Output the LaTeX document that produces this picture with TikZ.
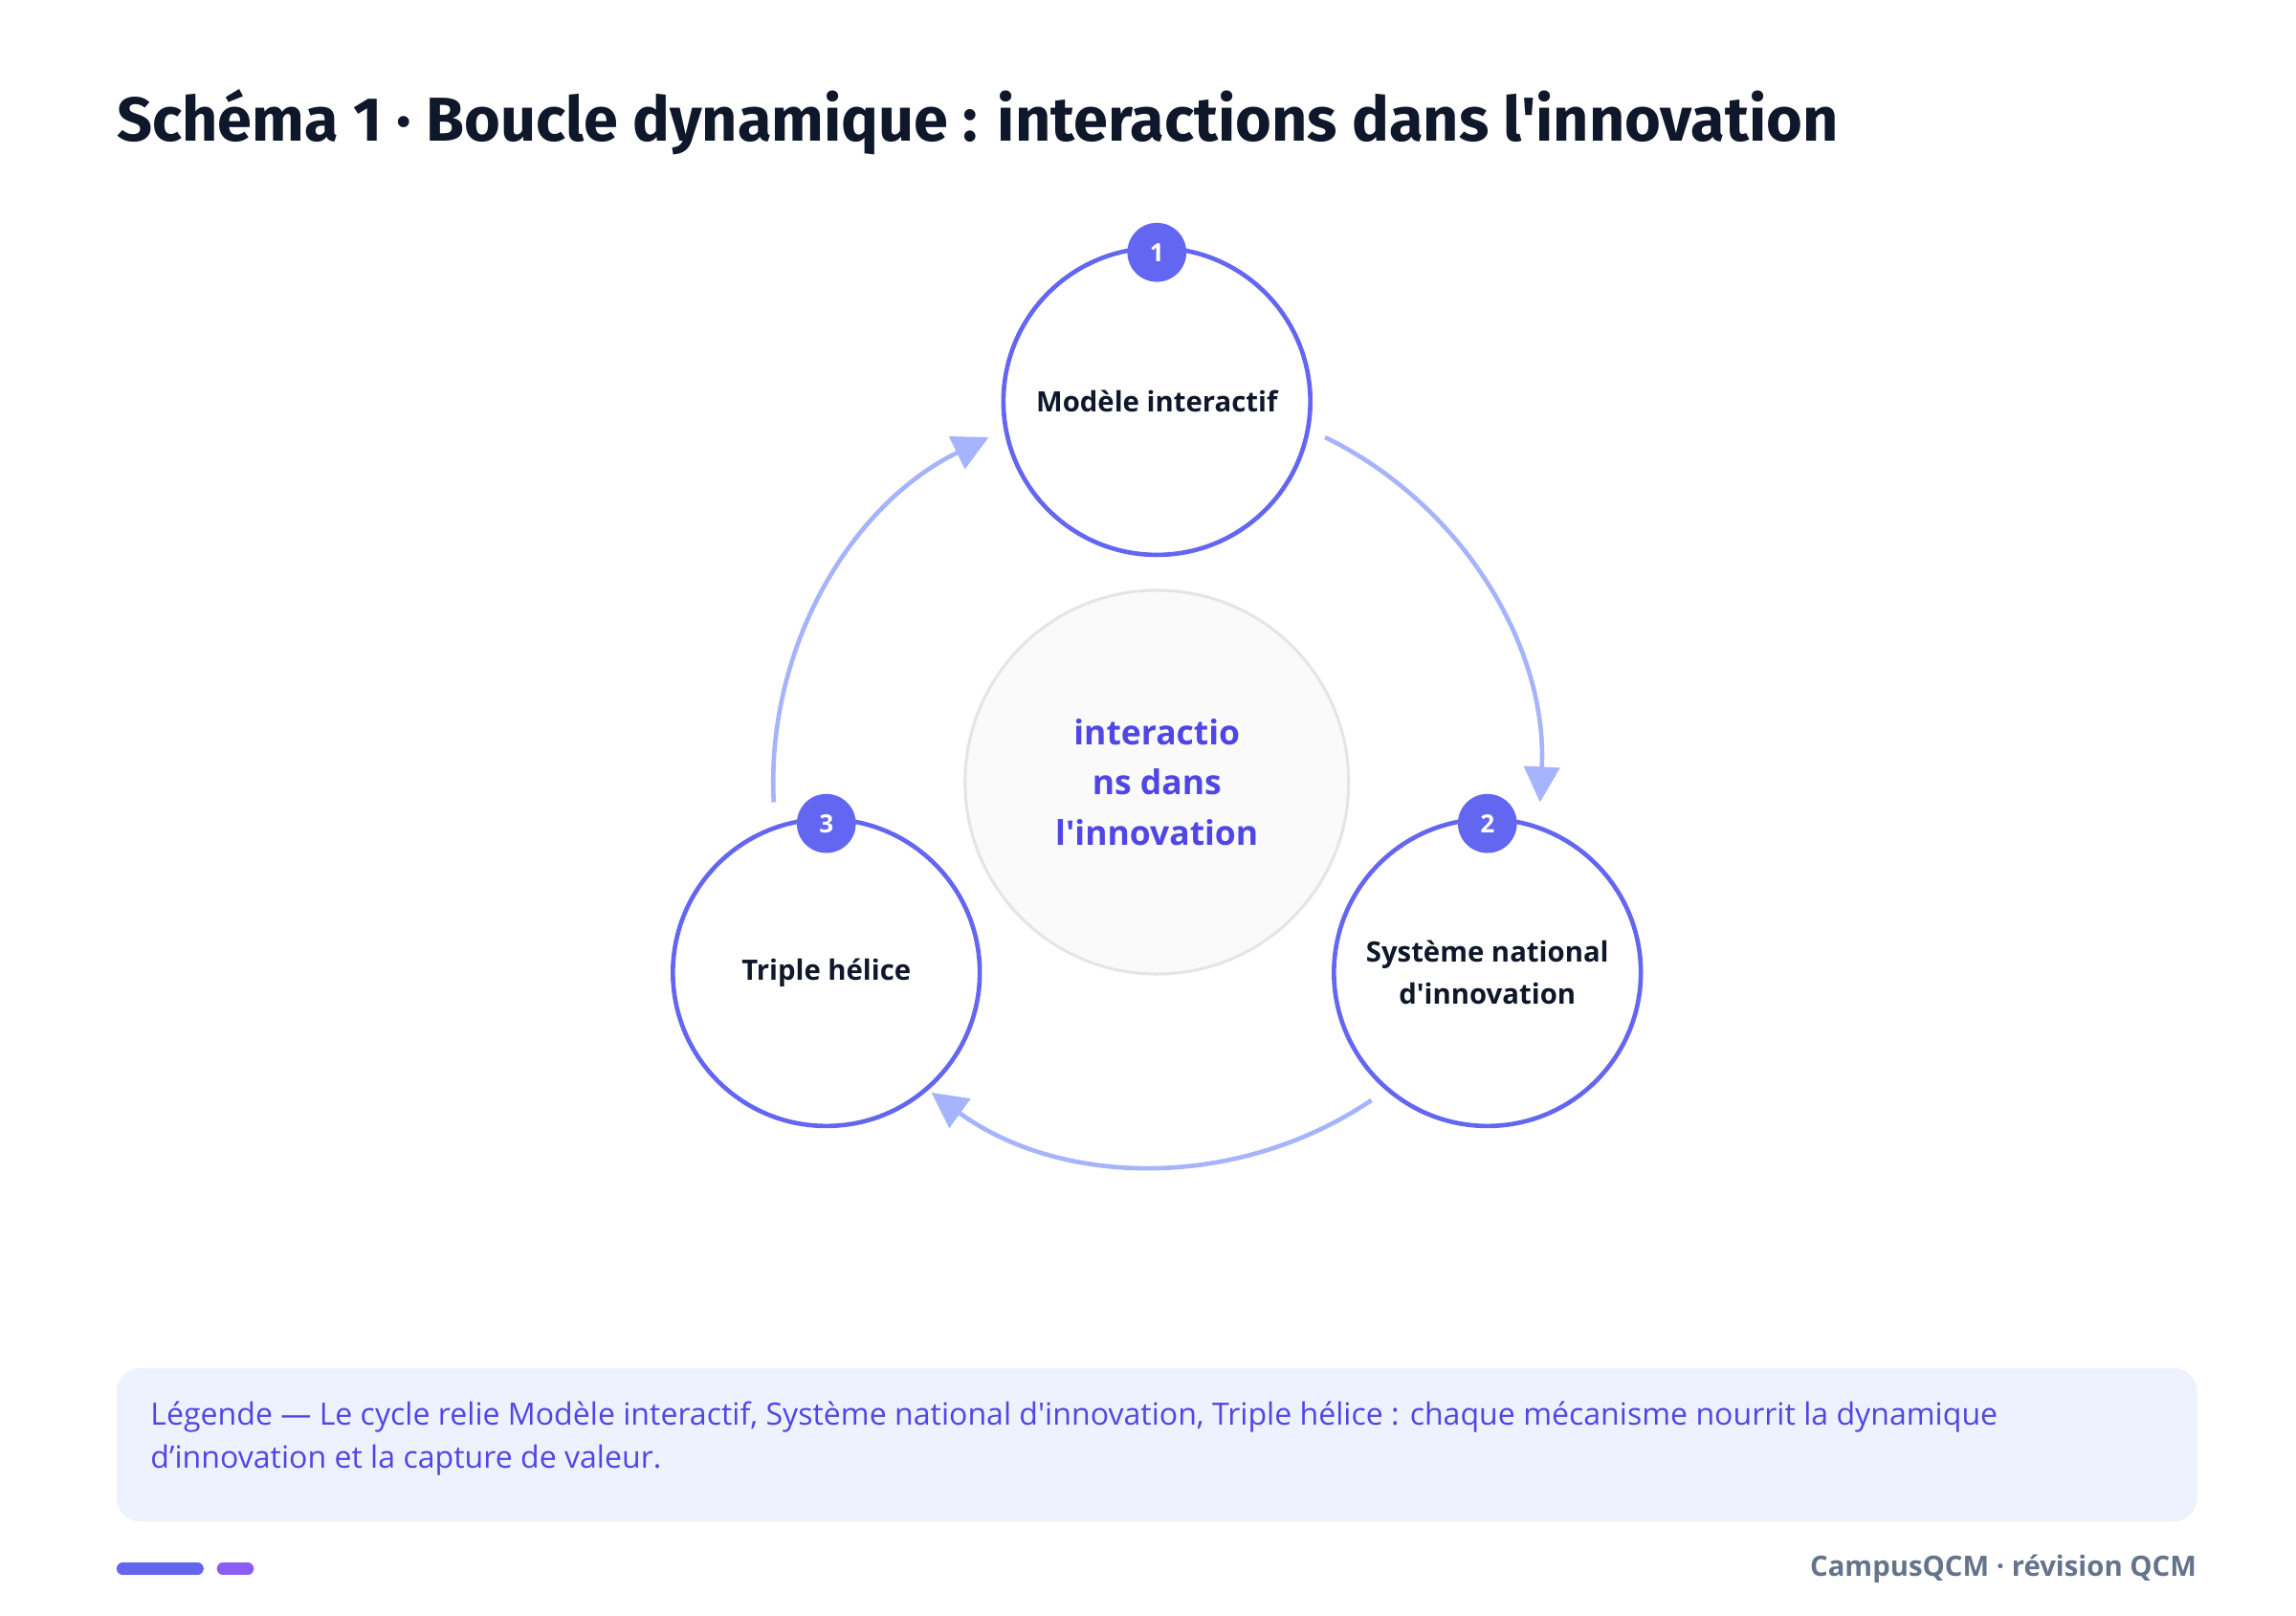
\documentclass[tikz,border=0pt]{standalone}
\usepackage{fontspec}
\setmainfont{Open Sans}[Ligatures=TeXOff]
\newfontfamily\titlefont{Fira Sans}
\usetikzlibrary{arrows.meta,calc}
\definecolor{ind}{HTML}{6366F1}
\definecolor{arr}{HTML}{A5B4FC}
\definecolor{navy}{HTML}{0F172A}
\definecolor{pur}{HTML}{4F46E5}
\definecolor{legbg}{HTML}{EEF2FF}
\definecolor{vio}{HTML}{8B5CF6}
\definecolor{slate}{HTML}{64748B}
\begin{document}
\begin{tikzpicture}[x=0.5pt,y=0.5pt,
  stage/.style={circle,draw=ind,line width=1.5pt,fill=white,minimum size=104pt,inner sep=0pt,align=center,font=\fontsize{9.5pt}{14pt}\selectfont\bfseries,text=navy},
  badge/.style={circle,fill=ind,minimum size=20pt,inner sep=0pt,text=white,font=\fontsize{8.5pt}{10pt}\selectfont\bfseries},
  flow/.style={draw=arr,line width=1.5pt,-{Triangle[length=12pt,width=12pt]}}]
\useasboundingbox (0,0) rectangle (1556,-1095);
\fill[white] (0,0) rectangle (1556,-1095);
\node[anchor=west,inner sep=0pt,text=navy,font=\titlefont\fontsize{21pt}{24pt}\selectfont\bfseries] (title) at (79,-83) {Schéma 1 · Boucle dynamique : interactions dans l'innovation};
\coordinate (c) at (784,-530);
\draw[flow] ($(c)+(64:260)$) arc[start angle=64,end angle=-3,radius=260];
\draw[flow] ($(c)+(-56:260)$) arc[start angle=-56,end angle=-126,radius=260];
\draw[flow] ($(c)+(183:260)$) arc[start angle=183,end angle=116,radius=260];
\node[circle,draw=black!10,line width=1pt,fill=black!2,minimum size=130pt,inner sep=0pt,align=center,text=pur,font=\fontsize{11.5pt}{17pt}\selectfont\bfseries] (center) at (c) {interactio\\ns dans\\l'innovation};
\node[stage] (m) at (784,-272) {Modèle interactif};
\node[stage] (s) at (1008,-659) {Système national\\d'innovation};
\node[stage] (t) at (560,-659) {Triple hélice};
\node[badge] (b1) at (784,-171) {1};
\node[badge] (b2) at (1008,-558) {2};
\node[badge] (b3) at (560,-558) {3};
\fill[legbg,rounded corners=8pt] (79,-927) rectangle (1489,-1031);
\node[anchor=north west,text=pur,align=left,font=\fontsize{10.4pt}{14.5pt}\selectfont] (leg) at (95,-943) {Légende — Le cycle relie Modèle interactif, Système national d'innovation, Triple hélice : chaque mécanisme nourrit la dynamique\\d’innovation et la capture de valeur.};
\draw[ind,line width=4pt,line cap=round] (83,-1063) -- (134,-1063);
\draw[vio,line width=4pt,line cap=round] (151,-1063) -- (168,-1063);
\node[anchor=east,inner sep=0pt,text=slate,font=\fontsize{9.5pt}{11pt}\selectfont\bfseries] (foot) at (1489,-1063) {CampusQCM · révision QCM};
\end{tikzpicture}
\end{document}
